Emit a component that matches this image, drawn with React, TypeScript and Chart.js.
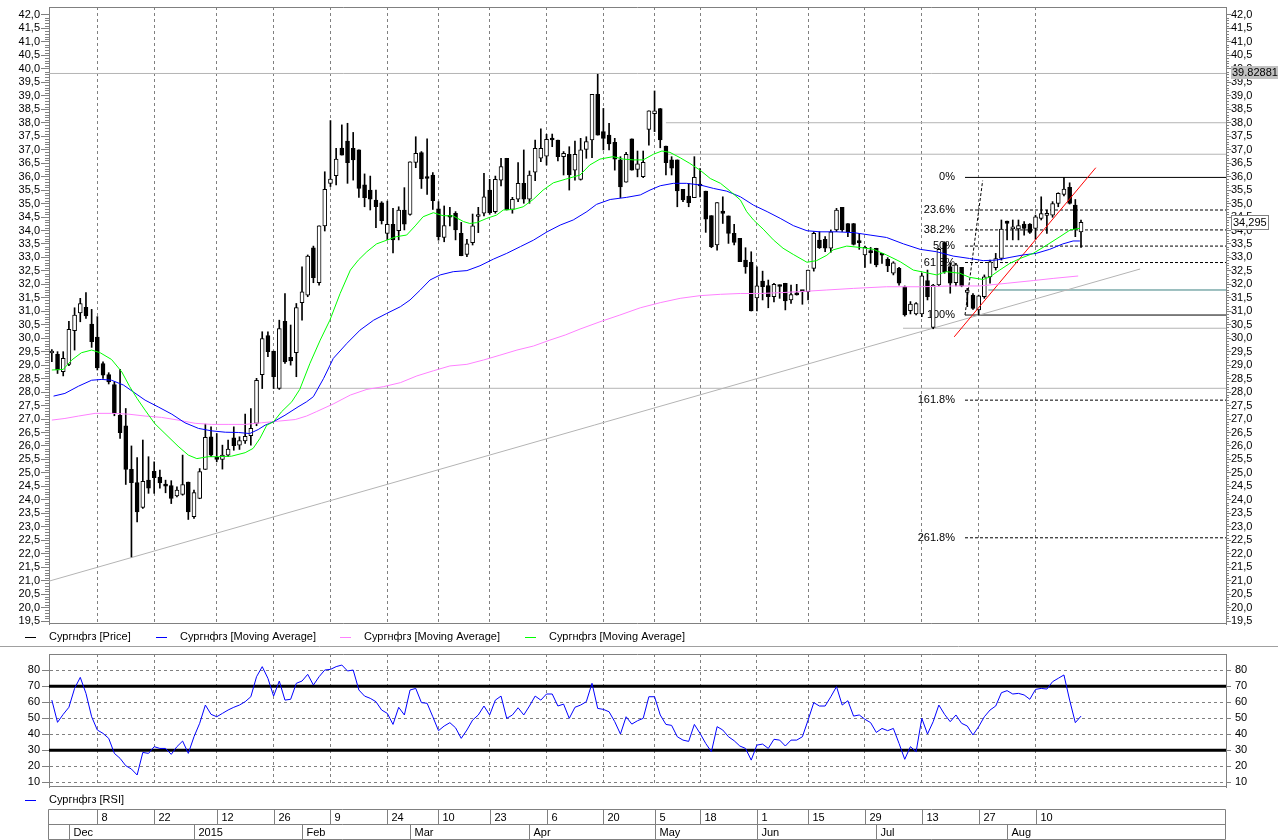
import React, { useEffect, useRef } from 'react';
import { Chart, registerables } from 'chart.js';

Chart.register(...registerables);

const FONT = '"Liberation Sans", Arial, sans-serif';
Chart.defaults.font.family = FONT;
Chart.defaults.font.size = 11;
Chart.defaults.color = '#000';

// ---------- price data (one candle per trading day, index 0..181) ----------
const opens = [
  29.45, 29.40, 28.76, 29.03, 30.28, 30.94, 31.15, 30.52, 30.04, 29.06,
  28.65, 28.28, 27.14, 26.75, 25.13, 24.64, 23.72, 24.73, 25.06, 24.84,
  24.58, 24.53, 24.14, 24.20, 24.66, 23.37, 24.05, 25.13, 26.34, 25.52,
  25.50, 25.66, 26.30, 26.03, 26.19, 26.38, 26.84, 28.65, 30.10, 29.52,
  28.14, 30.63, 29.29, 29.46, 31.32, 31.60, 33.36, 32.06, 34.17, 35.75,
  36.03, 37.06, 37.32, 37.05, 36.99, 35.69, 35.50, 35.13, 35.03, 33.89,
  34.23, 33.99, 34.76, 34.60, 36.53, 36.89, 35.97, 36.06, 34.80, 33.74,
  34.53, 34.64, 33.89, 33.11, 33.55, 34.52, 34.64, 35.50, 34.70, 35.87,
  36.68, 34.78, 35.16, 35.75, 35.16, 36.16, 36.68, 36.76, 37.42, 37.36,
  36.74, 36.83, 36.24, 35.90, 37.01, 37.36, 39.05, 37.67, 37.54, 37.27,
  36.62, 35.79, 37.40, 36.27, 36.00, 37.75, 38.34, 38.53, 37.13, 36.62,
  36.62, 35.53, 35.28, 35.22, 35.72, 35.46, 34.55, 33.46, 34.72, 34.54,
  33.89, 33.71, 32.90, 32.82, 31.50, 32.12, 31.95, 31.54, 31.95, 32.04,
  31.42, 31.63, 31.75, 31.73, 32.59, 33.64, 33.67, 33.34, 34.02, 34.86,
  34.26, 34.26, 33.58, 33.09, 33.25, 33.34, 33.10, 32.93, 32.41, 32.59,
  31.91, 31.02, 30.90, 30.90, 32.14, 30.40, 31.98, 33.55, 32.66, 32.06,
  32.63, 31.70, 31.60, 31.05, 31.54, 32.28, 32.62, 32.96, 34.35, 34.06,
  34.06, 34.24, 34.24, 34.08, 34.45, 34.56, 34.57, 35.00, 35.34, 35.60,
  34.94, 33.95,
];
const highs = [
  29.58, 29.50, 29.50, 30.63, 31.13, 31.48, 31.69, 31.07, 30.80, 29.12,
  28.72, 28.38, 28.84, 27.39, 26.00, 25.57, 26.22, 25.60, 25.41, 25.10,
  24.73, 24.71, 24.48, 25.66, 24.66, 24.36, 25.16, 26.81, 26.71, 26.46,
  26.03, 26.22, 26.71, 26.34, 27.18, 27.39, 28.51, 30.24, 30.24, 29.52,
  30.67, 31.66, 30.49, 31.29, 32.65, 33.09, 33.42, 34.17, 36.18, 38.08,
  37.05, 37.92, 37.98, 37.64, 36.99, 36.10, 36.02, 35.50, 35.07, 35.09,
  34.82, 34.88, 35.59, 36.55, 37.48, 36.93, 37.40, 36.15, 35.07, 34.91,
  34.86, 34.70, 34.30, 33.67, 34.61, 34.86, 36.12, 35.90, 36.02, 36.68,
  36.68, 35.23, 36.52, 36.99, 36.21, 37.36, 37.77, 37.57, 37.58, 37.36,
  36.93, 37.11, 37.32, 37.42, 37.48, 39.05, 39.80, 38.53, 37.98, 37.42,
  36.74, 36.90, 37.40, 36.95, 36.95, 38.44, 39.18, 38.53, 37.13, 36.74,
  36.62, 35.53, 35.75, 36.74, 36.30, 35.46, 34.55, 35.04, 35.25, 34.54,
  34.23, 33.71, 33.36, 33.21, 32.65, 32.49, 32.16, 32.04, 31.98, 32.04,
  31.97, 32.00, 31.75, 32.53, 33.95, 33.95, 33.77, 34.02, 34.82, 34.86,
  34.26, 34.26, 33.89, 33.42, 33.37, 33.34, 33.15, 32.99, 32.84, 32.63,
  31.94, 31.36, 31.32, 32.41, 32.53, 32.00, 33.34, 33.58, 32.80, 32.78,
  32.63, 31.85, 31.66, 31.60, 32.35, 32.90, 33.15, 34.39, 34.35, 34.39,
  34.39, 34.33, 34.26, 34.57, 35.25, 34.76, 35.07, 35.40, 35.97, 35.77,
  35.15, 34.39,
];
const lows = [
  29.13, 28.69, 28.60, 28.98, 29.56, 30.61, 30.73, 29.66, 28.82, 28.51,
  28.30, 27.12, 26.28, 24.57, 21.88, 23.18, 23.68, 24.24, 24.24, 24.43,
  24.26, 23.86, 24.11, 24.17, 23.27, 23.31, 24.04, 25.13, 25.60, 25.41,
  25.14, 25.60, 25.84, 25.87, 26.09, 26.03, 26.75, 28.13, 29.31, 28.13,
  28.10, 29.06, 29.00, 28.57, 30.67, 31.54, 32.06, 31.97, 33.98, 35.63,
  35.69, 36.80, 35.75, 35.87, 35.23, 34.88, 34.76, 34.10, 34.24, 33.65,
  33.17, 33.65, 34.02, 34.57, 36.33, 35.56, 35.34, 34.78, 33.64, 33.58,
  34.17, 33.65, 33.06, 33.03, 33.46, 33.92, 34.54, 34.60, 34.64, 35.65,
  34.76, 34.64, 35.07, 35.01, 35.01, 35.85, 36.55, 36.43, 37.11, 36.58,
  36.06, 35.50, 35.87, 35.87, 36.68, 36.70, 37.54, 36.99, 36.99, 36.24,
  35.22, 35.79, 36.24, 35.99, 35.96, 37.17, 37.67, 37.07, 36.06, 36.06,
  34.88, 35.07, 34.88, 35.22, 35.25, 33.93, 33.36, 33.27, 34.26, 33.52,
  33.46, 32.84, 32.41, 31.01, 31.01, 31.42, 31.13, 31.35, 31.48, 31.05,
  31.29, 31.60, 31.26, 31.42, 32.49, 33.33, 33.21, 33.19, 33.96, 33.96,
  33.77, 33.46, 33.30, 32.63, 32.78, 32.65, 32.78, 32.47, 32.35, 31.97,
  30.82, 30.90, 30.86, 30.80, 31.42, 30.35, 31.94, 32.41, 31.67, 31.94,
  31.91, 31.17, 31.07, 30.86, 31.48, 32.04, 32.53, 32.90, 33.65, 33.65,
  33.65, 33.83, 33.89, 33.67, 34.39, 33.89, 34.49, 34.88, 35.28, 34.98,
  33.77, 33.37,
];
const closes = [
  29.50, 28.82, 29.25, 30.33, 30.86, 31.29, 30.83, 29.87, 28.90, 28.63,
  28.38, 27.21, 26.49, 25.13, 24.64, 23.55, 24.69, 24.43, 24.82, 24.63,
  24.51, 24.05, 24.36, 24.57, 23.55, 24.27, 25.05, 26.32, 25.66, 25.50,
  25.66, 25.88, 26.01, 26.20, 26.36, 26.65, 28.44, 29.99, 29.50, 28.57,
  30.36, 29.12, 29.16, 31.14, 31.72, 33.05, 32.25, 34.17, 35.53, 35.91,
  36.65, 36.80, 36.52, 36.62, 35.56, 35.22, 35.16, 34.88, 34.36, 34.23,
  33.65, 34.76, 34.23, 36.55, 36.86, 35.91, 35.93, 35.11, 33.77, 34.18,
  34.49, 34.02, 33.06, 33.50, 34.17, 34.54, 35.25, 34.66, 35.90, 36.37,
  34.76, 35.16, 35.75, 35.16, 36.06, 37.05, 37.05, 37.38, 37.36, 36.74,
  36.86, 36.06, 36.83, 36.99, 37.30, 39.05, 37.54, 37.42, 37.21, 36.65,
  35.62, 36.83, 36.24, 36.47, 36.53, 38.44, 38.44, 37.36, 36.52, 36.31,
  35.47, 35.13, 35.03, 35.97, 35.65, 34.42, 33.40, 35.04, 34.63, 33.89,
  33.56, 32.84, 32.65, 31.01, 31.94, 31.91, 31.54, 32.00, 31.92, 31.38,
  31.62, 31.61, 31.73, 32.53, 33.89, 33.36, 33.34, 33.95, 34.76, 34.02,
  33.95, 33.48, 33.55, 33.37, 33.18, 32.72, 33.08, 32.68, 32.80, 32.04,
  30.86, 31.27, 31.29, 32.32, 31.54, 31.97, 33.30, 32.47, 32.04, 32.72,
  31.94, 31.79, 31.11, 31.57, 32.28, 32.84, 32.96, 34.05, 34.26, 34.08,
  34.18, 34.08, 33.93, 34.51, 34.63, 34.60, 35.00, 35.38, 35.54, 35.00,
  34.04, 34.30,
];

// ---------- moving averages (at these candle positions) ----------
const maGreenIdx = [0, 2, 3.5, 5.2, 7, 8.5, 10.5, 12.3, 13.7, 15, 16.4, 18.1, 19.9, 22.2, 24, 25.5, 27.5, 29.3, 31.6, 34, 35.4, 36.6, 37.8, 39, 40.4, 42.2, 43.6, 45.4, 47.2, 48.9, 50.7, 52.5, 53.9, 55.4, 57.1, 58.9, 60.6, 62.4, 63.9, 65.3, 67.1, 68.8, 70.6, 72.4, 73.5, 74.7, 76.5, 78.2, 79.4, 81.2, 82.9, 84.7, 86.4, 88.2, 90.3, 92.9, 94.6, 96.4, 98.7, 100.5, 102.3, 104, 105.8, 107.3, 108.7, 110.5, 112.2, 114, 115.8, 117.6, 119.3, 121.1, 122.2, 123.4, 125.1, 126.9, 128.6, 130.4, 132.8, 134.5, 136.3, 137.4, 139.8, 142.1, 144.5, 146.8, 149.2, 151.5, 153.8, 155.6, 157.3, 159.7, 161.4, 163.8, 165, 166.7, 168.5, 170.3, 172.6, 175, 177.3, 179.1, 180.8];
const maGreenVal = [28.82, 28.84, 29.19, 29.46, 29.56, 29.46, 29.21, 28.75, 28.20, 27.76, 27.33, 26.83, 26.46, 25.99, 25.66, 25.53, 25.60, 25.60, 25.62, 25.75, 25.91, 26.28, 26.77, 26.90, 27.27, 27.64, 28.10, 29.07, 29.93, 30.67, 31.66, 32.53, 32.90, 33.21, 33.50, 33.64, 33.77, 33.83, 34.17, 34.51, 34.66, 34.55, 34.54, 34.33, 34.26, 34.29, 34.45, 34.57, 34.76, 34.78, 34.88, 35.16, 35.50, 35.77, 35.90, 36.06, 36.43, 36.65, 36.74, 36.65, 36.62, 36.62, 36.83, 36.95, 36.90, 36.70, 36.49, 36.24, 35.93, 35.75, 35.46, 35.13, 34.70, 34.39, 34.05, 33.65, 33.34, 33.11, 32.82, 32.88, 33.08, 33.28, 33.42, 33.37, 33.30, 33.09, 32.84, 32.53, 32.43, 32.35, 32.47, 32.41, 32.26, 32.18, 32.28, 32.53, 32.78, 32.96, 33.15, 33.46, 33.77, 34.02, 34.08];
const maBlueIdx = [0.3, 2.3, 4.7, 7, 8.8, 10.5, 12.6, 14.3, 16.4, 18.7, 21.1, 23.4, 25.8, 28.1, 30.5, 32.8, 34.8, 36.3, 37.5, 39, 41, 43.3, 44.8, 46, 47.8, 49.5, 51.9, 54.2, 56.6, 58.9, 61.3, 63, 64.8, 66.5, 68.3, 70.6, 73, 75.3, 77.7, 80, 82.4, 84.7, 87.1, 89.4, 91.7, 94.1, 95.8, 98.2, 101.1, 103.5, 105.2, 107, 109.3, 111.6, 114, 116.4, 118.7, 121.1, 123.4, 125.8, 128.1, 130.4, 132.8, 135.1, 138, 141, 143.9, 146.8, 149.8, 152.7, 155.6, 158.5, 161.4, 163.8, 166.1, 168.5, 170.8, 173.1, 175.5, 177.8, 179.6, 180.8];
const maBlueVal = [27.85, 27.95, 28.22, 28.44, 28.47, 28.44, 28.26, 28.01, 27.70, 27.45, 27.18, 26.86, 26.65, 26.56, 26.51, 26.50, 26.46, 26.61, 26.77, 26.90, 27.14, 27.45, 27.64, 27.83, 28.51, 29.25, 29.81, 30.30, 30.67, 30.92, 31.17, 31.42, 31.79, 32.16, 32.35, 32.47, 32.51, 32.69, 32.94, 33.15, 33.40, 33.64, 33.95, 34.20, 34.39, 34.70, 34.97, 35.15, 35.23, 35.32, 35.50, 35.66, 35.75, 35.75, 35.69, 35.56, 35.46, 35.25, 34.94, 34.70, 34.45, 34.18, 33.99, 33.95, 33.95, 33.92, 33.83, 33.74, 33.50, 33.30, 33.21, 33.05, 32.96, 32.88, 32.90, 33.00, 33.09, 33.15, 33.30, 33.50, 33.61, 33.61];
const maPinkIdx = [0, 2.3, 4.7, 7.6, 10.5, 13.5, 16.4, 19.3, 22.2, 25.2, 28.1, 31, 34, 36.9, 39.8, 42.8, 44.8, 46.5, 49.5, 52.5, 55.4, 58.3, 61.3, 64.2, 67.1, 70, 73, 75.9, 78.8, 81.8, 84.7, 87.6, 90.3, 92.9, 96.4, 99.9, 103.5, 107, 110.5, 114, 117.6, 121.1, 124.6, 128.1, 131.6, 136.3, 141, 146.8, 152.7, 158.5, 163.2, 168, 172.6, 176.1, 180.5];
const maPinkVal = [26.96, 27.02, 27.11, 27.21, 27.21, 27.18, 27.11, 27.06, 26.96, 26.84, 26.80, 26.80, 26.80, 26.86, 26.92, 26.98, 27.11, 27.27, 27.56, 27.89, 28.10, 28.20, 28.35, 28.60, 28.79, 28.97, 29.03, 29.19, 29.37, 29.56, 29.71, 29.93, 30.12, 30.34, 30.61, 30.86, 31.13, 31.32, 31.48, 31.58, 31.63, 31.66, 31.66, 31.69, 31.73, 31.79, 31.85, 31.91, 31.91, 31.94, 31.94, 32.04, 32.14, 32.22, 32.31];

// ---------- RSI ----------
const rsiValues = [
  61.4, 47.5, 52.5, 56.9, 68.7, 75.6, 65.6, 51.0, 42.7, 40.6,
  37.5, 28.1, 25.0, 20.4, 18.3, 14.6, 28.7, 28.1, 32.3, 31.2,
  31.2, 27.5, 32.3, 35.8, 28.1, 38.5, 46.9, 58.3, 52.5, 51.0,
  53.1, 55.2, 56.9, 58.3, 60.4, 63.5, 76.0, 82.3, 75.0, 63.9,
  73.3, 61.4, 61.9, 71.9, 73.3, 77.5, 70.8, 76.0, 80.2, 80.6,
  82.3, 83.3, 79.6, 80.2, 67.7, 63.9, 62.5, 60.4, 55.2, 53.1,
  46.2, 56.9, 52.1, 67.7, 68.7, 59.8, 59.4, 51.0, 42.3, 45.2,
  47.3, 44.1, 37.5, 42.7, 48.9, 52.1, 57.7, 52.1, 61.4, 63.9,
  50.0, 52.1, 56.6, 52.1, 57.7, 63.9, 61.4, 65.2, 65.2, 57.7,
  58.9, 50.0, 56.9, 58.3, 60.4, 71.9, 56.2, 55.6, 54.1, 47.9,
  40.2, 51.0, 46.4, 48.5, 50.0, 63.5, 63.5, 52.1, 46.2, 45.6,
  38.5, 36.4, 35.6, 46.2, 40.6, 34.3, 29.1, 44.8, 42.7, 38.5,
  36.0, 32.7, 31.2, 23.9, 33.3, 33.9, 31.2, 36.9, 36.4, 32.7,
  36.4, 36.4, 38.5, 48.9, 59.8, 57.7, 57.7, 63.5, 69.8, 58.3,
  61.0, 51.4, 52.1, 49.4, 47.3, 41.2, 43.7, 42.3, 43.7, 34.3,
  24.4, 32.3, 29.1, 50.0, 40.2, 47.9, 58.3, 52.5, 47.9, 52.1,
  46.9, 45.2, 39.6, 44.8, 51.0, 55.2, 57.7, 66.0, 67.3, 65.2,
  65.6, 64.6, 61.9, 68.1, 68.7, 68.3, 72.9, 75.0, 77.1, 61.4,
  47.3, 51.4,
];

// ---------- axes / date strip ----------
const priceTicks = [19.5, 20.0, 20.5, 21.0, 21.5, 22.0, 22.5, 23.0, 23.5, 24.0, 24.5, 25.0, 25.5, 26.0, 26.5, 27.0, 27.5, 28.0, 28.5, 29.0, 29.5, 30.0, 30.5, 31.0, 31.5, 32.0, 32.5, 33.0, 33.5, 34.0, 34.5, 35.0, 35.5, 36.0, 36.5, 37.0, 37.5, 38.0, 38.5, 39.0, 39.5, 40.0, 40.5, 41.0, 41.5, 42.0];
const rsiTicks = [10, 20, 30, 40, 50, 60, 70, 80];
const weekIdx = [8, 18, 29, 39, 49, 59, 68, 77, 87, 97, 106, 114, 124, 133, 143, 153, 163, 173];
const weekLabels = ['8', '22', '12', '26', '9', '24', '10', '23', '6', '20', '5', '18', '1', '15', '29', '13', '27', '10'];
const monthIdx = [3, 25, 44, 63, 84, 106, 124, 145, 168];
const monthLabels = ['Dec', '2015', 'Feb', 'Mar', 'Apr', 'May', 'Jun', 'Jul', 'Aug'];

// ---------- drawing tools (levels / trend lines) ----------
const fibStart = 160.6;
const fibLevels = [35.97, 34.76, 34.02, 33.42, 32.81, 30.86, 27.70, 22.59];
const fibLabels = ['0%', '23.6%', '38.2%', '50%', '61.8%', '100%', '161.8%', '261.8%'];
const grayLevels = [39.82881, 38.0, 36.83, 28.14, 30.37];
const grayLevelStart = [-0.5, 108, 108, 39, 149.7];
const tealLevel = 31.79;
const tealStart = 164.7;
const grayTrendX = [-0.5, 191.4];
const grayTrendY = [20.98, 32.57];
const redTrendX = [158.7, 183.6];
const redTrendY = [30.05, 36.33];
const fibLinkX = [160.6, 163.7];
const fibLinkY = [30.86, 35.85];
const peakValue = 39.82881;
const lastValue = 34.295;

const legendLabels = ['Сургнфгз [Price]', 'Сургнфгз [Moving Average]', 'Сургнфгз [Moving Average]', 'Сургнфгз [Moving Average]'];
const legendColors = ['#000000', '#0000ff', '#ff80ff', '#00ff00'];
const legendX = [25, 156, 340, 525];

const X_MIN = -0.5;
const X_MAX = 206.5;

const pts = (xs: number[], ys: number[]) => xs.map((x, i) => ({ x, y: ys[i] }));
const fmt1 = (v: number) => Number(v).toFixed(1).replace('.', ',');

const lineDs = (data: any[], color: string, width = 1, order = 0, dash: number[] = []) => ({
  type: 'line',
  data,
  borderColor: color,
  borderWidth: width,
  borderDash: dash,
  pointRadius: 0,
  tension: 0,
  fill: false,
  order,
});

const xScale = () => ({
  type: 'linear',
  min: X_MIN,
  max: X_MAX,
  offset: false,
  ticks: { display: false, autoSkip: false },
  grid: { color: '#808080', lineWidth: 1, drawTicks: false, offset: false, drawOnChartArea: true },
  border: { display: false, dash: [3, 3] },
  afterBuildTicks: (s: any) => { s.ticks = weekIdx.map((v) => ({ value: v })); },
  afterFit: (s: any) => { s.height = 0; s.paddingLeft = 0; s.paddingRight = 0; },
});

const mainDecor = {
  id: 'mainDecor',
  beforeDatasetsDraw(chart: any) {
    const { ctx } = chart;
    const xs = chart.scales.x;
    const ys = chart.scales.y;
    ctx.save();
    ctx.font = `11px ${FONT}`;
    ctx.fillStyle = '#000';
    ctx.textAlign = 'right';
    ctx.textBaseline = 'middle';
    const lx = xs.getPixelForValue(fibStart) - 10;
    fibLevels.forEach((v, k) => ctx.fillText(fibLabels[k], lx, ys.getPixelForValue(v)));
    ctx.restore();
  },
  afterDraw(chart: any) {
    const { ctx, chartArea: a } = chart;
    const ys = chart.scales.y;
    ctx.save();
    ctx.lineWidth = 1;
    ctx.strokeStyle = '#808080';
    ctx.beginPath();
    ctx.moveTo(a.left, Math.round(a.top) + 0.5);
    ctx.lineTo(a.right, Math.round(a.top) + 0.5);
    ctx.moveTo(a.left, Math.round(a.bottom) - 0.5);
    ctx.lineTo(a.right, Math.round(a.bottom) - 0.5);
    ctx.stroke();
    // minor ticks
    ctx.beginPath();
    for (let k = 195; k <= 420; k++) {
      if (k % 5 === 0) continue;
      const y = Math.round(ys.getPixelForValue(k / 10)) + 0.5;
      ctx.moveTo(a.left - 4, y);
      ctx.lineTo(a.left, y);
      ctx.moveTo(a.right, y);
      ctx.lineTo(a.right + 3, y);
    }
    ctx.stroke();
    // legend
    ctx.font = `11px ${FONT}`;
    ctx.textAlign = 'left';
    ctx.textBaseline = 'middle';
    legendLabels.forEach((t, k) => {
      const x = legendX[k];
      ctx.strokeStyle = legendColors[k];
      ctx.beginPath();
      ctx.moveTo(x, 637.5);
      ctx.lineTo(x + 11, 637.5);
      ctx.stroke();
      ctx.fillStyle = '#000';
      ctx.fillText(t, x + 24, 637);
    });
    // separator
    ctx.strokeStyle = '#a0a0a0';
    ctx.beginPath();
    ctx.moveTo(0, 646.5);
    ctx.lineTo(1278, 646.5);
    ctx.stroke();
    // value boxes on the right axis
    const yp = Math.round(ys.getPixelForValue(peakValue));
    ctx.fillStyle = '#c0c0c0';
    ctx.fillRect(1231, yp - 7, 47, 13);
    ctx.fillStyle = '#000';
    ctx.fillText('39.82881', 1232, yp);
    const yl = Math.round(ys.getPixelForValue(lastValue));
    ctx.fillStyle = '#fff';
    ctx.fillRect(1231.5, yl - 7.5, 37, 14);
    ctx.strokeStyle = '#808080';
    ctx.strokeRect(1231.5, yl - 7.5, 37, 14);
    ctx.fillStyle = '#000';
    ctx.fillText(lastValue.toFixed(3).replace('.', ','), 1233, yl);
    ctx.restore();
  },
};

const rsiDecor = {
  id: 'rsiDecor',
  afterDraw(chart: any) {
    const { ctx, chartArea: a } = chart;
    const xs = chart.scales.x;
    ctx.save();
    ctx.lineWidth = 1;
    ctx.strokeStyle = '#808080';
    ctx.beginPath();
    ctx.moveTo(a.left, Math.round(a.top) + 0.5);
    ctx.lineTo(a.right, Math.round(a.top) + 0.5);
    ctx.moveTo(a.left, Math.round(a.bottom) - 0.5);
    ctx.lineTo(a.right, Math.round(a.bottom) - 0.5);
    ctx.stroke();
    // legend
    ctx.font = `11px ${FONT}`;
    ctx.textAlign = 'left';
    ctx.textBaseline = 'middle';
    ctx.strokeStyle = '#0000ff';
    ctx.beginPath();
    ctx.moveTo(25, 153.5);
    ctx.lineTo(36, 153.5);
    ctx.stroke();
    ctx.fillStyle = '#000';
    ctx.fillText('Сургнфгз [RSI]', 49, 153);
    // date strip
    const top = 162.5, mid = 177.5, bot = 192.5;
    const L = Math.round(a.left) - 0.5, R = Math.round(a.right) - 0.5;
    ctx.strokeStyle = '#808080';
    ctx.beginPath();
    ctx.moveTo(L, top); ctx.lineTo(R, top);
    ctx.moveTo(L, mid); ctx.lineTo(R, mid);
    ctx.moveTo(L, bot); ctx.lineTo(R, bot);
    ctx.moveTo(L, top); ctx.lineTo(L, bot);
    ctx.moveTo(R, top); ctx.lineTo(R, bot);
    weekIdx.forEach((i) => {
      const x = Math.round(xs.getPixelForValue(i)) + 0.5;
      ctx.moveTo(x, top); ctx.lineTo(x, mid);
    });
    monthIdx.forEach((i) => {
      const x = Math.round(xs.getPixelForValue(i)) + 0.5;
      ctx.moveTo(x, mid); ctx.lineTo(x, bot);
    });
    ctx.stroke();
    ctx.fillStyle = '#000';
    weekIdx.forEach((i, k) => {
      const x = Math.round(xs.getPixelForValue(i)) + 0.5;
      ctx.fillText(weekLabels[k], x + 4, (top + mid) / 2 + 0.5);
    });
    monthIdx.forEach((i, k) => {
      const x = Math.round(xs.getPixelForValue(i)) + 0.5;
      ctx.fillText(monthLabels[k], x + 4, (mid + bot) / 2 + 0.5);
    });
    ctx.restore();
  },
};

function mainConfig(): any {
  const idx = opens.map((_, i) => i);
  const bodyData = idx.map((i) => ({ x: i, y: [opens[i], closes[i]] }));
  const wickData = idx.map((i) => ({ x: i, y: [lows[i], highs[i]] }));
  const bodyColors = idx.map((i) => (closes[i] >= opens[i] ? '#ffffff' : '#000000'));

  const datasets: any[] = [
    lineDs(pts(maGreenIdx, maGreenVal), '#00ff00', 1, 0),
    lineDs(pts(maBlueIdx, maBlueVal), '#0000ff', 1, 1),
    lineDs(pts(maPinkIdx, maPinkVal), '#ff80ff', 1, 2),
    lineDs(pts(redTrendX, redTrendY), '#ff0000', 1, 3),
    {
      type: 'bar',
      data: bodyData,
      backgroundColor: bodyColors,
      borderColor: '#000000',
      borderWidth: 1,
      borderSkipped: false,
      barThickness: 4,
      minBarLength: 2,
      grouped: false,
      order: 4,
    },
    {
      type: 'bar',
      data: wickData,
      backgroundColor: '#000000',
      borderWidth: 0,
      barThickness: 1,
      grouped: false,
      order: 5,
    },
    lineDs(pts(grayTrendX, grayTrendY), '#b4b4b4', 1, 6),
    lineDs(pts(fibLinkX, fibLinkY), '#000000', 1, 7, [3, 2]),
  ];
  grayLevels.forEach((v, k) => {
    datasets.push(lineDs([{ x: grayLevelStart[k], y: v }, { x: X_MAX, y: v }], '#b4b4b4', 1, 8));
  });
  datasets.push(lineDs([{ x: tealStart, y: tealLevel }, { x: X_MAX, y: tealLevel }], '#3c8080', 1, 8));
  fibLevels.forEach((v, k) => {
    const solid = k === 0 || k === 5;
    datasets.push(lineDs([{ x: fibStart, y: v }, { x: X_MAX, y: v }], '#000000', 1, 9, solid ? [] : [3, 2]));
  });

  const yBase = (position: string, width: number, tickLength: number, padding: number) => ({
    type: 'linear',
    position,
    min: 19.389,
    max: 42.297,
    ticks: { autoSkip: false, padding, color: '#000', font: { family: FONT, size: 11 }, callback: (v: any) => fmt1(v) },
    grid: { drawOnChartArea: false, drawTicks: true, tickLength, color: '#808080' },
    border: { display: true, color: '#808080' },
    afterBuildTicks: (s: any) => { s.ticks = priceTicks.map((v) => ({ value: v })); },
    afterFit: (s: any) => { s.width = width; s.paddingTop = 0; s.paddingBottom = 0; },
  });

  return {
    type: 'line',
    data: { datasets },
    options: {
      responsive: false,
      animation: false,
      events: [],
      layout: { padding: { top: 7, bottom: 23, left: 0, right: 0 } },
      plugins: { legend: { display: false }, tooltip: { enabled: false } },
      scales: {
        x: xScale(),
        y: yBase('left', 49, 8, 1),
        yR: yBase('right', 52, 5, 0),
      },
    },
    plugins: [mainDecor],
  };
}

function rsiConfig(): any {
  const rsiData = rsiValues.map((v, i) => ({ x: i, y: v }));
  const yBase = (position: string, width: number, tickLength: number, padding: number, onArea: boolean) => ({
    type: 'linear',
    position,
    min: 7.1,
    max: 90.2,
    ticks: { autoSkip: false, padding, color: '#000', font: { family: FONT, size: 11 }, callback: (v: any) => String(v) },
    grid: { drawOnChartArea: onArea, drawTicks: true, tickLength, color: '#808080', tickBorderDash: [] },
    border: { display: true, color: '#808080', dash: [3, 3] },
    afterBuildTicks: (s: any) => { s.ticks = rsiTicks.map((v) => ({ value: v })); },
    afterFit: (s: any) => { s.width = width; s.paddingTop = 0; s.paddingBottom = 0; },
  });
  return {
    type: 'line',
    data: {
      datasets: [
        lineDs(rsiData, '#0000ff', 1, 0),
        lineDs([{ x: X_MIN, y: 70 }, { x: X_MAX, y: 70 }], '#000000', 3, 1),
        lineDs([{ x: X_MIN, y: 30 }, { x: X_MAX, y: 30 }], '#000000', 3, 1),
      ],
    },
    options: {
      responsive: false,
      animation: false,
      events: [],
      layout: { padding: { top: 7, bottom: 53, left: 0, right: 0 } },
      plugins: { legend: { display: false }, tooltip: { enabled: false } },
      scales: {
        x: xScale(),
        y: yBase('left', 49, 7, 2, true),
        yR: yBase('right', 52, 5, 4, false),
      },
    },
    plugins: [rsiDecor],
  };
}

export default function App() {
  const mainRef = useRef<HTMLCanvasElement>(null);
  const rsiRef = useRef<HTMLCanvasElement>(null);
  useEffect(() => {
    const main = new Chart(mainRef.current as HTMLCanvasElement, mainConfig());
    const rsi = new Chart(rsiRef.current as HTMLCanvasElement, rsiConfig());
    return () => {
      main.destroy();
      rsi.destroy();
    };
  }, []);
  return (
    <div style={{ position: 'absolute', left: 0, top: 0, width: 1278, height: 840, background: '#fff', overflow: 'hidden' }}>
      <canvas ref={mainRef} width={1278} height={647} style={{ position: 'absolute', left: 0, top: 0, width: 1278, height: 647 }} />
      <canvas ref={rsiRef} width={1278} height={193} style={{ position: 'absolute', left: 0, top: 647, width: 1278, height: 193 }} />
    </div>
  );
}
